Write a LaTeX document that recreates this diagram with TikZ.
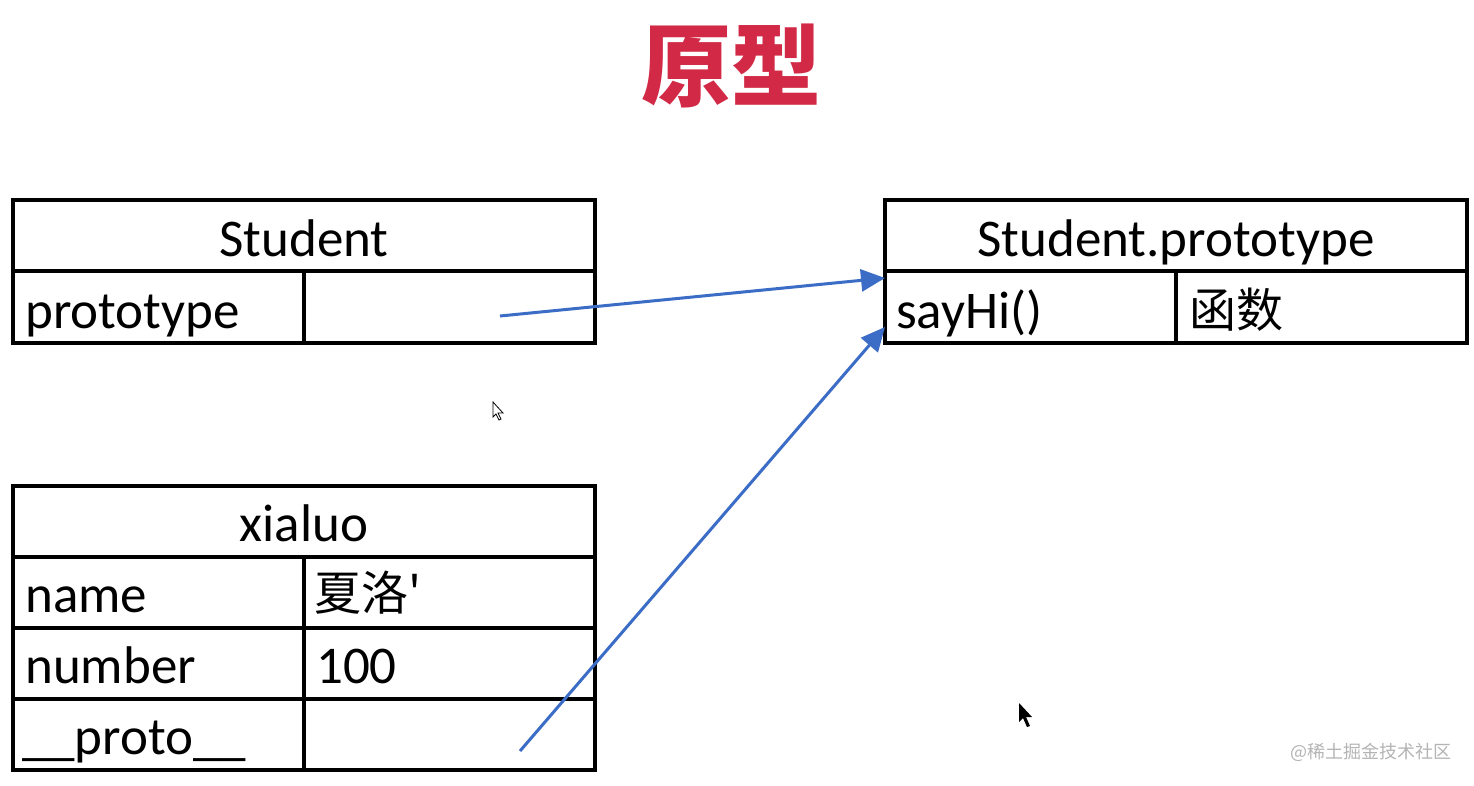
\documentclass[tikz,border=0pt]{standalone}
\usepackage{fontspec}
\setmainfont{Carlito}
\newfontfamily\cjk{Noto Sans CJK SC}
\usetikzlibrary{arrows.meta}
\definecolor{titlered}{HTML}{D22A46}
\definecolor{arrowblue}{HTML}{3B6CC6}
\definecolor{wmgray}{HTML}{B4B4B4}
\tikzset{
  grid/.style={line width=3.2pt, draw=black},
  celltext/.style={anchor=base west, inner sep=0pt, font=\fontsize{53}{60}\selectfont},
  headtext/.style={anchor=base, inner sep=0pt, font=\fontsize{53}{60}\selectfont},
  arr/.style={line width=3pt, draw=arrowblue, -{Triangle[length=24pt,width=22pt]}},
}
\begin{document}
\begin{tikzpicture}[x=1pt,y=-1pt]
\path[use as bounding box] (0,0) rectangle (1474,785);
\fill[white] (0,0) rectangle (1474,785);

% title
\node[inner sep=0pt, text=titlered, font=\cjk\bfseries\fontsize{90}{98}\selectfont] (title) at (731,66) {原型};

% Student table
\draw[grid] (13,200) rectangle (595,343);
\draw[grid] (13,271) -- (595,271);
\draw[grid] (304,271) -- (304,343);
\node[headtext] (sh) at (304,256) {Student};
\node[celltext] (sp) at (25,328) {prototype};
\coordinate (spv) at (500,316);

% Student.prototype table
\draw[grid] (885,200) rectangle (1467,343);
\draw[grid] (885,271) -- (1467,271);
\draw[grid] (1176,271) -- (1176,343);
\node[headtext] (ph) at (1176,256) {Student.prototype};
\node[celltext] (pk) at (896,328) {sayHi()};
\node[celltext, font=\cjk\fontsize{47}{54}\selectfont] (pv) at (1189,327) {函数};
\coordinate (pin1) at (885,278);
\coordinate (pin2) at (885,327);

% xialuo table
\draw[grid] (13,486) rectangle (595,770);
\draw[grid] (13,557) -- (595,557);
\draw[grid] (13,628) -- (595,628);
\draw[grid] (13,699) -- (595,699);
\draw[grid] (304,557) -- (304,770);
\node[headtext] (xh) at (304,541) {xialuo};
\node[celltext] (xk1) at (25,612) {name};
\node[celltext, font=\cjk\fontsize{47}{54}\selectfont] (xv1) at (314,610) {夏洛'};
\node[celltext] (xk2) at (25,683) {number};
\node[celltext] (xv2) at (316,683) {100};
\node[celltext] (xk3) at (22,754) {\_\_proto\_\_};
\coordinate (xpv) at (520,751);

% arrows
\draw[arr] (spv) -- (pin1);
\draw[arr] (xpv) -- (pin2);

% cursors
\draw[line width=0.8pt, fill=white] (493,402) -- (493,417) -- (496,414) -- (499,420) -- (501,419) -- (498,413) -- (503,413) -- cycle;
\fill[black] (1019,703) -- (1019,722) -- (1023,718) -- (1027,727) -- (1030,726) -- (1026,717) -- (1032,717) -- cycle;

% watermark
\node[anchor=west, inner sep=0pt, text=wmgray, font=\cjk\fontsize{18}{20}\selectfont] (wm) at (1290,752) {@稀土掘金技术社区};
\end{tikzpicture}
\end{document}
